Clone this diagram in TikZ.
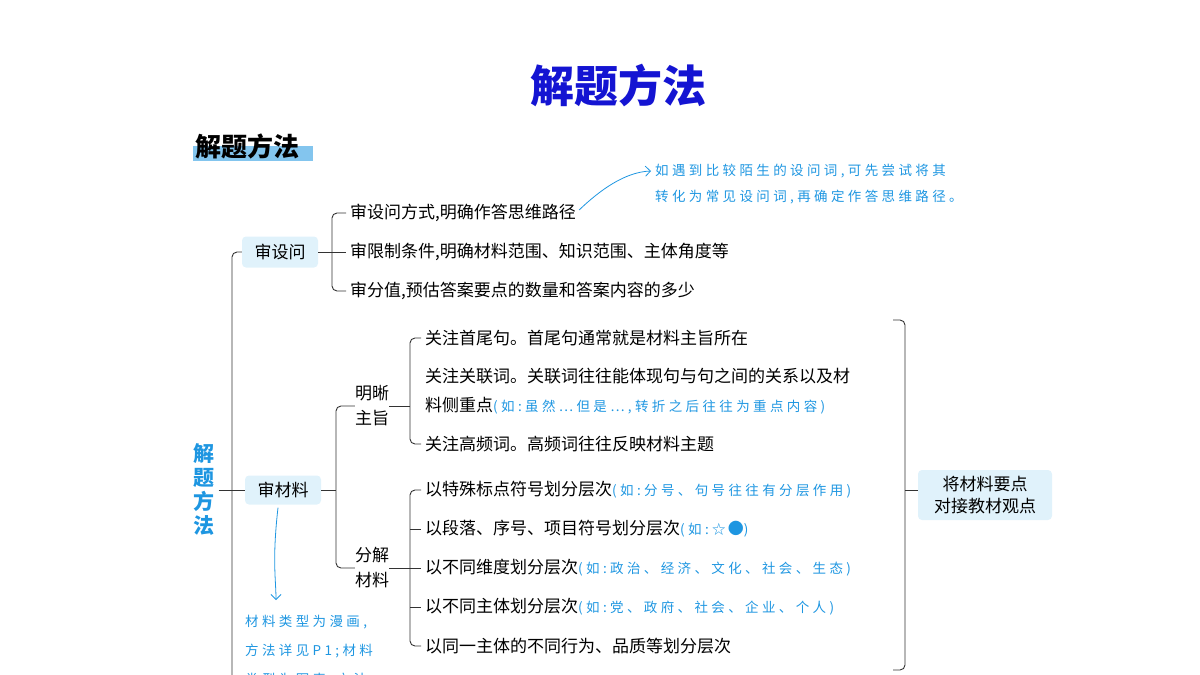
\documentclass[tikz,border=0pt]{standalone}
\usepackage{fontspec}
\setmainfont{Noto Sans CJK SC}
\usetikzlibrary{arrows.meta}
\definecolor{hb}{RGB}{30,150,225}
\definecolor{tb}{RGB}{20,20,210}
\definecolor{boxf}{RGB}{224,242,251}
\newcommand{\hw}{\color{hb}\fontsize{13.5}{13.5}\selectfont\addfontfeatures{LetterSpace=25}}
\begin{document}
\begin{tikzpicture}[x=1pt,y=-1pt,
  it/.style={anchor=west,inner sep=0pt,font=\fontsize{17}{17}\selectfont},
  note/.style={text=hb,font=\hw},
  bx/.style={fill=boxf,rounded corners=4pt,inner sep=0pt,font=\fontsize{17}{20}\selectfont},
  ln/.style={line width=0.9pt,black!80},
  rc/.style={ln,rounded corners=5pt}]
\useasboundingbox (0,0) rectangle (1200,675);
\clip (0,0) rectangle (1200,675);
\node[text=tb,font=\fontsize{44}{44}\selectfont\bfseries] (title) at (618,86) {解题方法};
\fill[hb!55] (193,146) rectangle (313,161);
\node[font=\fontsize{26}{26}\selectfont\bfseries,anchor=west,inner sep=0pt] (sub) at (195,146) {解题方法};
\node[text=hb,font=\fontsize{21}{24}\selectfont\bfseries,align=center,inner sep=0pt] (root) at (204,490) {解\\题\\方\\法};
\node[bx,minimum width=76pt,minimum height=31pt] (s1) at (280,252) {审设问};
\node[bx,minimum width=76pt,minimum height=29pt] (s2) at (283,490) {审材料};
\draw[rc] (s1.west) -- (232,252) -- (232,680);
\draw[ln] (root.east) ++(4,0) -- (s2.west);
\node[it] (a1) at (350,213) {审设问方式,明确作答思维路径};
\node[it] (a2) at (350,252) {审限制条件,明确材料范围、知识范围、主体角度等};
\node[it] (a3) at (350,291) {审分值,预估答案要点的数量和答案内容的多少};
\draw[ln] (s1.east) -- (332,252);
\draw[rc] ([xshift=-4pt]a1.west) -- (332,213) -- (332,291) -- ([xshift=-4pt]a3.west);
\draw[ln] (332,252) -- ([xshift=-4pt]a2.west);
\node[note,anchor=west,align=left,inner sep=0pt] (n1) at (655,184) {如遇到比较陌生的设问词,可先尝试将其\\[11pt]转化为常见设问词,再确定作答思维路径。};
\draw[hb,line width=0.8pt,-{Straight Barb[length=5pt]}] ([xshift=3pt,yshift=3pt]a1.east) .. controls (600,190) and (625,172) .. (651,171);
\node[font=\fontsize{17}{25}\selectfont,align=center,inner sep=0pt] (m1) at (372,406) {明晰\\主旨};
\node[font=\fontsize{17}{25}\selectfont,align=center,inner sep=0pt] (m2) at (372,568) {分解\\材料};
\draw[ln] (s2.east) -- (336,490);
\draw[rc] (m1.west) -- (336,406) -- (336,568) -- (m2.west);
\node[it] (b1) at (425,338) {关注首尾句。首尾句通常就是材料主旨所在};
\node[it] (b2) at (425,376) {关注关联词。关联词往往能体现句与句之间的关系以及材};
\node[it] (b3) at (425,406) {料侧重点{\hw(如:虽然…但是…,转折之后往往为重点内容)}};
\node[it] (b4) at (425,444) {关注高频词。高频词往往反映材料主题};
\draw[ln] (m1.east) -- (410,406);
\draw[rc] ([xshift=-4pt]b1.west) -- (410,338) -- (410,444) -- ([xshift=-4pt]b4.west);
\node[it] (c1) at (425,490) {以特殊标点符号划分层次{\hw(如:分号、句号往往有分层作用)}};
\node[it] (c2) at (425,529) {以段落、序号、项目符号划分层次{\hw(如:☆\,{\fontsize{16}{16}\selectfont●})}};
\node[it] (c3) at (425,568) {以不同维度划分层次{\hw(如:政治、经济、文化、社会、生态)}};
\node[it] (c4) at (425,607) {以不同主体划分层次{\hw(如:党、政府、社会、企业、个人)}};
\node[it] (c5) at (425,646) {以同一主体的不同行为、品质等划分层次};
\draw[ln] (m2.east) -- (410,568);
\draw[rc] ([xshift=-4pt]c1.west) -- (410,490) -- (410,646) -- ([xshift=-4pt]c5.west);
\foreach \n in {c2,c3,c4} \draw[ln] (410,0 |- \n.west) -- ([xshift=-4pt]\n.west);
\node[bx,align=center,minimum width=134pt,minimum height=50pt,font=\fontsize{17}{22}\selectfont] (k) at (985,495) {将材料要点\\对接教材观点};
\draw[rc] (893,320) -- (905,320) -- (905,670) -- (893,670);
\draw[ln] (905,490) -- (k.west |- 0,490);
\node[note,anchor=north west,align=left,inner sep=0pt] (n2) at (245,615) {材料类型为漫画,\\[14pt]方法详见P1;材料\\[14pt]类型为图表,方法};
\draw[hb,line width=0.8pt,-{Straight Barb[length=5pt]}] (s2.south) ++(-5,3) .. controls (272,560) and (276,580) .. (276,600);
\end{tikzpicture}
\end{document}
